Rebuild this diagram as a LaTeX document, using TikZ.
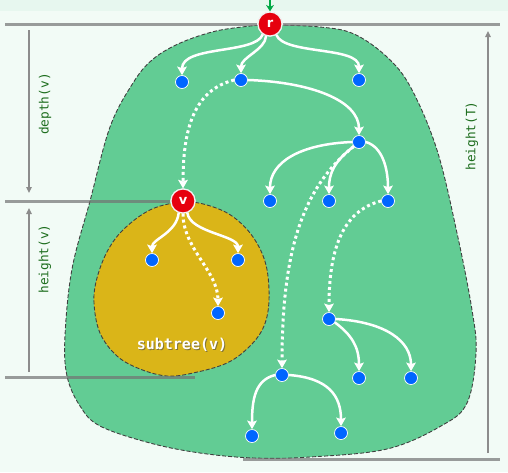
\documentclass[tikz,border=0pt]{standalone}
\usepackage{fontspec}
\setmainfont{DejaVu Sans}
\newfontfamily\monofont{DejaVu Sans Mono}
\usetikzlibrary{arrows.meta}
\definecolor{bgc}{HTML}{F2FBF6}
\definecolor{bgtop}{HTML}{E7F7EF}
\definecolor{blobgreen}{HTML}{62CC94}
\definecolor{blobyellow}{HTML}{DAB518}
\definecolor{nodeblue}{HTML}{0066FF}
\definecolor{nodered}{HTML}{E6000E}
\definecolor{labelgreen}{HTML}{1E6E1E}
\definecolor{entrygreen}{HTML}{00A844}
\definecolor{dimgray}{HTML}{8C8C8C}
\tikzset{
  leaf/.style={circle,fill=nodeblue,draw=white,line width=0.7pt,minimum size=13pt,inner sep=0pt},
  rootnode/.style={circle,fill=nodered,draw=white!90!gray,line width=1.2pt,minimum size=24pt,inner sep=0pt,text=white,font=\fontsize{13}{13}\selectfont\bfseries},
  edge/.style={draw=white,line width=2.5pt,-{Stealth[length=8.5pt,width=9.5pt,inset=1.5pt]}},
  dotedge/.style={draw=white,line width=3pt,dash pattern=on 3pt off 3pt,-{Stealth[length=8.5pt,width=9.5pt,inset=1.5pt]}},
  blob/.style={draw=black!75,line width=0.9pt,dash pattern=on 4pt off 2pt},
  levelline/.style={draw=black!55,opacity=0.7,line width=3pt},
  dimarrow/.style={draw=dimgray,line width=1.3pt,-{Triangle[length=6pt,width=5.5pt]}},
  dimlabel/.style={text=labelgreen,font=\monofont\fontsize{12.8}{13}\selectfont,rotate=90,inner sep=0pt},
}
\begin{document}
\begin{tikzpicture}[x=1pt,y=-1pt]
\useasboundingbox (0,0) rectangle (508,472);
\fill[bgc] (0,0) rectangle (508,472);
\fill[bgtop] (0,0) rectangle (508,11);

% green blob (whole tree)
\path[blob,fill=blobgreen] plot[smooth cycle,tension=0.6] coordinates {
 (270,25) (320,27) (354,34) (387,57) (411,88) (437,150) (457,233) (472,310)
 (476,353) (467,403) (441,426) (387,449) (310,457) (254,458) (200,453) (150,443)
 (100,426) (80,406) (67,376) (65,336) (72,269) (90,201) (110,127) (133,83)
 (152,60) (178,44) (212,32) (242,27)};

% yellow blob (subtree)
\path[blob,fill=blobyellow] plot[smooth cycle,tension=0.6] coordinates {
 (183,202) (207,205) (232,216) (253,237) (266,265) (269,300) (264,326) (250,346)
 (227,363) (193,373) (167,376) (140,369) (117,356) (100,333) (94,303) (97,278)
 (108,250) (125,228) (152,209)};

% level line ends
\coordinate (l1a) at (5,24);  \coordinate (l1b) at (500,24);
\coordinate (l2a) at (5,201);
\coordinate (l3a) at (5,377); \coordinate (l3b) at (195,377);
\coordinate (l4a) at (243,459); \coordinate (l4b) at (500,459);

% nodes
\node[rootnode] (r) at (270,24) {r};
\node[leaf] (a1) at (182,82) {};
\node[leaf] (a2) at (241,80) {};
\node[leaf] (a3) at (359,80) {};
\node[leaf] (b) at (359,142) {};
\node[leaf] (c1) at (270,201) {};
\node[leaf] (c2) at (329,201) {};
\node[leaf] (c3) at (388,201) {};
\node[rootnode] (v) at (183,201) {v};
\node[leaf] (v1) at (152,260) {};
\node[leaf] (v2) at (238,260) {};
\node[leaf] (v3) at (218,313) {};
\node[leaf] (d) at (329,319) {};
\node[leaf] (d1) at (359,378) {};
\node[leaf] (d2) at (411,378) {};
\node[leaf] (e) at (282,375) {};
\node[leaf] (e1) at (252,436) {};
\node[leaf] (e2) at (341,433) {};

% level lines
\draw[levelline] (l1a) -- (r.west);
\draw[levelline] (r.east) -- (l1b);
\draw[levelline] (l2a) -- (v.west);
\draw[levelline] (l3a) -- (l3b);
\draw[levelline] (l4a) -- (l4b);

% redraw root nodes on top of lines
\node[rootnode] at (r) {r};
\node[rootnode] at (v) {v};

% entry arrow
\coordinate (top) at (270,0);
\draw[draw=entrygreen,line width=2.2pt,-{Stealth[length=6.5pt,width=8pt]}] (top) -- (r.north);

% solid edges
\draw[edge] (r.235) .. controls +(-7,20) and +(0,-30) .. (a1.north);
\draw[edge] (r.252) .. controls +(-1,14) and +(0,-16) .. (a2.north);
\draw[edge] (r.300) .. controls +(8,20) and +(0,-27) .. (a3.north);
\draw[edge] (a2.east) .. controls +(62,2) and +(0,-35) .. (b.north);
\draw[edge] (b.west) .. controls +(-52,2) and +(0,-32) .. (c1.north);
\draw[edge] (b.220) .. controls +(-20,15) and +(0,-20) .. (c2.north);
\draw[edge] (b.east) .. controls +(17,5) and +(0,-25) .. (c3.north);
\draw[edge] (v.250) .. controls +(-2,20) and +(0,-14) .. (v1.north);
\draw[edge] (v.290) .. controls +(3,20) and +(0,-18) .. (v2.north);
\draw[edge] (d.-30) .. controls +(16,12) and +(0,-25) .. (d1.north);
\draw[edge] (d.east) .. controls +(50,3) and +(0,-30) .. (d2.north);
\draw[edge] (e.west) .. controls +(-20,5) and +(0,-30) .. (e1.north);
\draw[edge] (e.east) .. controls +(40,3) and +(0,-30) .. (e2.north);

% dotted edges
\draw[dotedge] (a2.west) .. controls +(-40,10) and +(0,-60) .. (v.north);
\draw[dotedge] (v.south) .. controls +(0,35) and +(0,-35) .. (v3.north);
\draw[dotedge] (b.220) .. controls +(-50,40) and +(0,-120) .. (e.north);
\draw[dotedge] (c3.west) .. controls +(-40,10) and +(0,-60) .. (d.north);

% dimension arrows
\coordinate (dv1) at (29,30);  \coordinate (dv2) at (29,193);
\coordinate (hv1) at (29,372); \coordinate (hv2) at (29,208);
\coordinate (ht1) at (488,453); \coordinate (ht2) at (488,31);
\draw[dimarrow] (dv1) -- (dv2);
\draw[dimarrow] (hv1) -- (hv2);
\draw[dimarrow] (ht1) -- (ht2);

\node[dimlabel] (ldepth) at (45,104) {depth(v)};
\node[dimlabel] (lheightv) at (45,259) {height(v)};
\node[dimlabel] (lheightT) at (472,136) {height(T)};

% subtree label
\node[text=black!70,opacity=0.6,font=\monofont\bfseries\fontsize{15}{15}\selectfont,inner sep=0pt] at (183,345.5) {subtree(v)};
\node[text=white,font=\monofont\bfseries\fontsize{15}{15}\selectfont,inner sep=0pt] (lsub) at (182,344.5) {subtree(v)};
\end{tikzpicture}
\end{document}
